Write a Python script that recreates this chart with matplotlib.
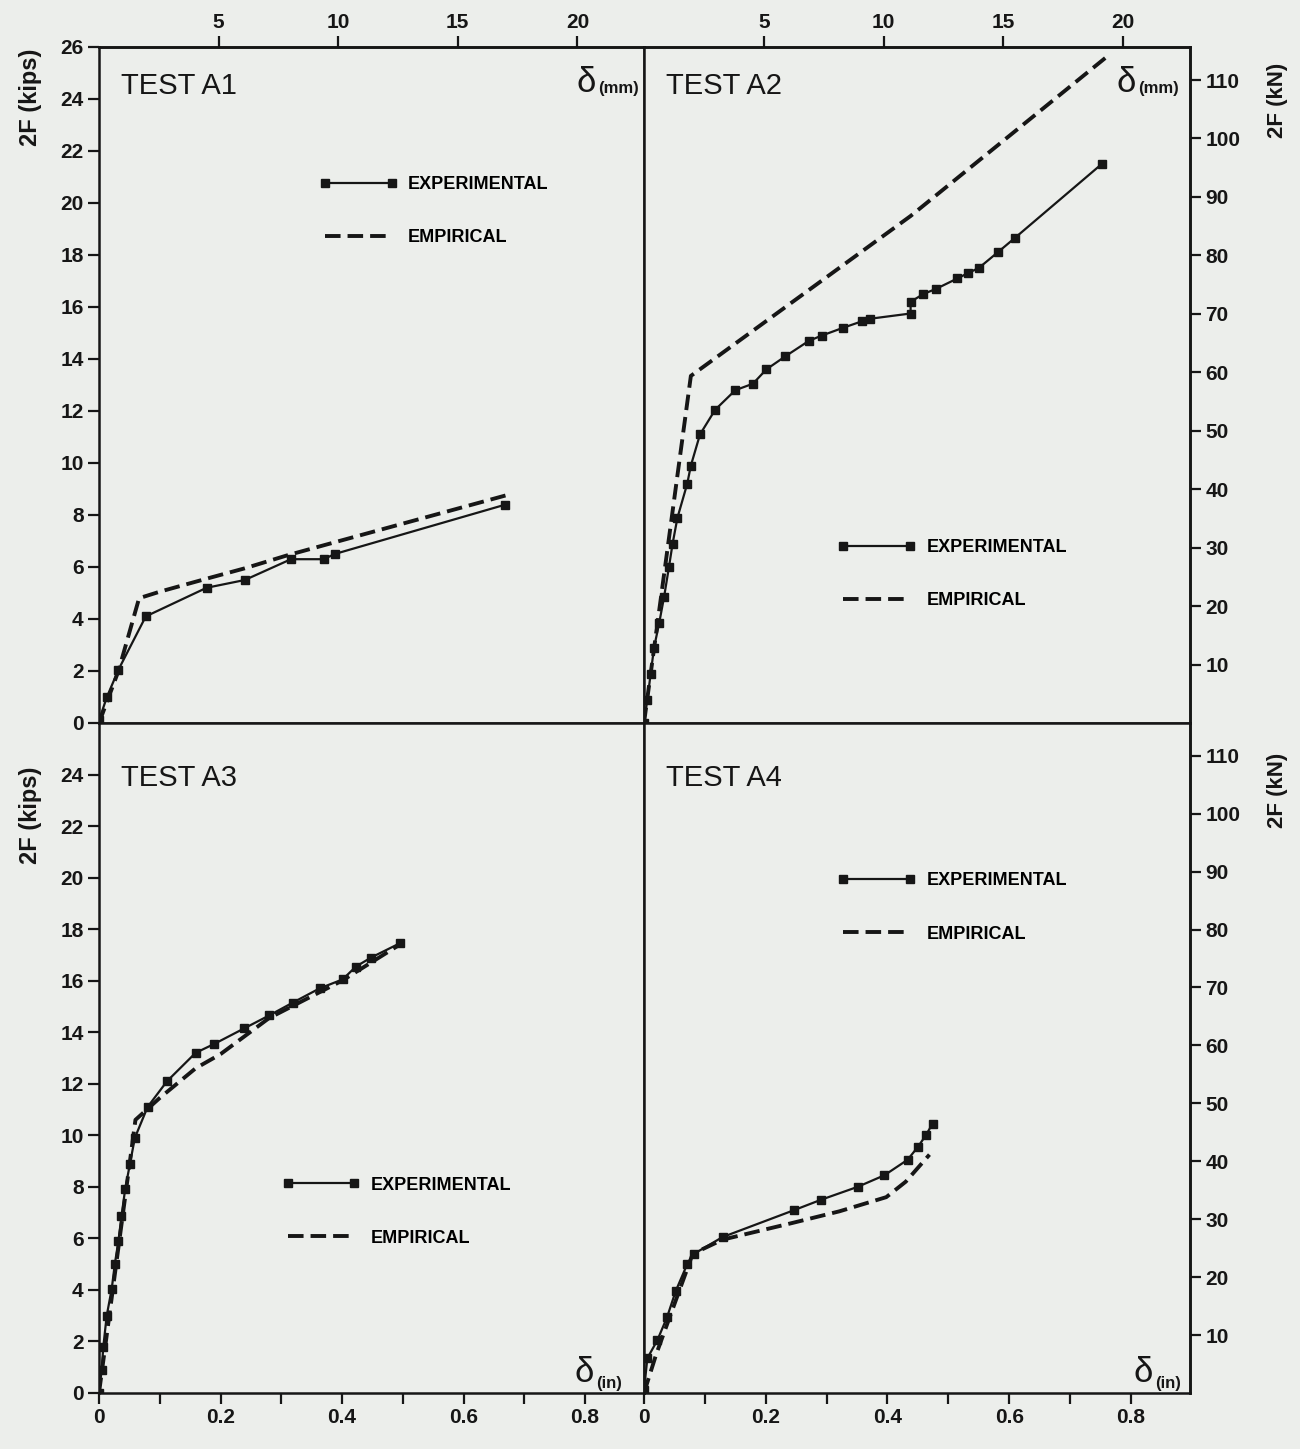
import numpy as np
import matplotlib.pyplot as plt
from matplotlib.ticker import FuncFormatter

plt.rcParams['font.family'] = ['Liberation Sans', 'DejaVu Sans']
plt.rcParams['font.weight'] = 'bold'

KN_PER_KIP = 4.448
MM_PER_IN = 25.4

# TEST A1  (deflection in inches, load 2F in kips)
a1_exp_in = [0, 0.013, 0.032, 0.077, 0.177, 0.24, 0.316, 0.370, 0.388, 0.669]
a1_exp_kips = [0.1, 1.0, 2.05, 4.1, 5.2, 5.5, 6.3, 6.3, 6.5, 8.4]
a1_emp_in = [0, 0.032, 0.066, 0.10, 0.177, 0.24, 0.31, 0.38, 0.669]
a1_emp_kips = [0, 2.0, 4.8, 5.05, 5.55, 5.95, 6.45, 6.9, 8.75]

# TEST A2
a2_exp_in = [0, 0.0055, 0.011, 0.0165, 0.025, 0.033, 0.041, 0.047, 0.055, 0.071,
             0.077, 0.092, 0.117, 0.15, 0.179, 0.201, 0.232, 0.271, 0.292, 0.327,
             0.358, 0.372, 0.438, 0.438, 0.459, 0.480, 0.515, 0.532, 0.550, 0.581,
             0.609, 0.752]
a2_exp_kips = [0, 0.9, 1.9, 2.9, 3.85, 4.85, 6.0, 6.9, 7.9, 9.2,
               9.9, 11.1, 12.05, 12.8, 13.05, 13.6, 14.1, 14.7, 14.9, 15.2,
               15.45, 15.55, 15.75, 16.2, 16.5, 16.7, 17.1, 17.3, 17.5, 18.1,
               18.65, 21.5]
a2_emp_in = [0, 0.077, 0.438, 0.759]
a2_emp_kips = [0, 13.35, 19.5, 25.6]

# TEST A3
a3_exp_in = [0, 0.0044, 0.0071, 0.0127, 0.021, 0.026, 0.032, 0.037, 0.043, 0.051,
             0.059, 0.080, 0.112, 0.159, 0.190, 0.239, 0.280, 0.319, 0.363, 0.401,
             0.423, 0.448, 0.495]
a3_exp_kips = [0, 0.9, 1.8, 3.0, 4.05, 5.0, 5.9, 6.85, 7.9, 8.9,
               9.9, 11.1, 12.1, 13.2, 13.55, 14.15, 14.65, 15.15, 15.7, 16.05,
               16.55, 16.9, 17.45]
a3_emp_in = [0, 0.06, 0.10, 0.159, 0.20, 0.28, 0.40, 0.495]
a3_emp_kips = [0, 10.6, 11.45, 12.6, 13.15, 14.55, 16.0, 17.4]

# TEST A4
a4_exp_in = [0, 0.0055, 0.022, 0.038, 0.052, 0.071, 0.082, 0.129, 0.247, 0.291,
             0.351, 0.395, 0.433, 0.45, 0.463, 0.474]
a4_exp_kips = [0.1, 1.35, 2.05, 2.95, 3.95, 5.0, 5.4, 6.05, 7.1, 7.5,
               8.0, 8.45, 9.05, 9.55, 10.0, 10.45]
a4_emp_in = [0, 0.02, 0.08, 0.129, 0.244, 0.321, 0.398, 0.43, 0.469]
a4_emp_kips = [0, 1.5, 5.4, 5.95, 6.6, 7.05, 7.6, 8.2, 9.25]

ink = '#161616'
paper = '#eceeeb'
W, H = 1300, 1449


def box(x0, x1, y0, y1):
    return [x0 / W, 1 - y1 / H, (x1 - x0) / W, (y1 - y0) / H]


fig = plt.figure(figsize=(13, 14.49), dpi=100)
fig.patch.set_facecolor(paper)

ax1 = fig.add_axes(box(99, 644, 47, 723))
ax2 = fig.add_axes(box(644, 1190, 47, 723))
ax3 = fig.add_axes(box(99, 644, 723, 1393))
ax4 = fig.add_axes(box(644, 1190, 723, 1393))

panels = [
    (ax1, 'TEST A1', a1_exp_in, a1_exp_kips, a1_emp_in, a1_emp_kips, (0.405, 0.796), 0.942),
    (ax2, 'TEST A2', a2_exp_in, a2_exp_kips, a2_emp_in, a2_emp_kips, (0.355, 0.259), 0.942),
    (ax3, 'TEST A3', a3_exp_in, a3_exp_kips, a3_emp_in, a3_emp_kips, (0.336, 0.310), 0.918),
    (ax4, 'TEST A4', a4_exp_in, a4_exp_kips, a4_emp_in, a4_emp_kips, (0.355, 0.764), 0.918),
]

tick_kw = dict(direction='out', length=8, width=1.6, labelsize=15, colors=ink, pad=3)

for ax, title, xe, ye, xm, ym, leg, ty in panels:
    ax.set_facecolor(paper)
    ax.plot(xe, ye, color=ink, lw=1.6, marker='s', ms=6, mfc=ink, mec=ink,
            label='EXPERIMENTAL', zorder=3)
    ax.plot(xm, ym, color=ink, lw=2.8, ls=(0, (4, 1.8)), label='EMPIRICAL', zorder=2)
    ax.set_xlim(0, 0.897)
    ax.set_ylim(0, 26)
    for s in ax.spines.values():
        s.set_linewidth(1.8)
        s.set_color(ink)
    ax.tick_params(**tick_kw)
    ax.text(0.04, ty, title, transform=ax.transAxes, fontsize=21,
            fontweight='normal', va='center', ha='left', color=ink)
    ax.legend(loc='upper left', bbox_to_anchor=(leg[0], leg[1] + 0.013),
              frameon=False, fontsize=13, handlelength=4.3, handletextpad=0.6,
              labelspacing=2.0, borderpad=0, borderaxespad=0, numpoints=2)

# left axes (kips)
ax1.set_yticks(np.arange(0, 27, 2))
ax3.set_yticks(np.arange(0, 25, 2))
for ax in (ax2, ax4):
    ax.tick_params(left=False, labelleft=False)
for ax in (ax1, ax2):
    ax.tick_params(bottom=False, labelbottom=False)

# bottom axes (in)
fmt = FuncFormatter(lambda v, p: '0' if abs(v) < 1e-9 else f'{v:.1f}')
for ax in (ax3, ax4):
    ax.set_xticks([0, 0.2, 0.4, 0.6, 0.8])
    ax.set_xticks([0.1, 0.3, 0.5, 0.7], minor=True)
    ax.xaxis.set_major_formatter(fmt)
    ax.tick_params(axis='x', which='minor', direction='out', length=8, width=1.6, colors=ink)

# top axes (mm)
for ax in (ax1, ax2):
    top = ax.secondary_xaxis('top', functions=(lambda x: x * MM_PER_IN, lambda x: x / MM_PER_IN))
    top.set_xticks([5, 10, 15, 20])
    top.tick_params(**tick_kw)
    top.spines['top'].set_linewidth(1.8)

# right axes (kN)
for ax in (ax2, ax4):
    right = ax.secondary_yaxis('right', functions=(lambda y: y * KN_PER_KIP, lambda y: y / KN_PER_KIP))
    right.set_yticks(np.arange(10, 111, 10))
    right.tick_params(**tick_kw)
    right.spines['right'].set_linewidth(1.8)

# deflection symbols
for ax, xr, unit, yd, yu in [(ax1, 0.912, '(mm)', 0.948, 0.939),
                             (ax2, 0.901, '(mm)', 0.948, 0.939),
                             (ax3, 0.908, '(in)', 0.030, 0.014),
                             (ax4, 0.932, '(in)', 0.030, 0.014)]:
    ax.text(xr, yd, 'δ', transform=ax.transAxes, fontsize=25, fontweight='normal',
            ha='right', va='center', color=ink)
    ax.text(xr + 0.004, yu, unit, transform=ax.transAxes, fontsize=12,
            ha='left', va='center', color=ink)

# axis titles
fig.text(30 / W, 1 - 97 / H, '2F (kips)', rotation=90, fontsize=17,
         ha='center', va='center', color=ink)
fig.text(30 / W, 1 - 815 / H, '2F (kips)', rotation=90, fontsize=17,
         ha='center', va='center', color=ink)
fig.text(1278 / W, 1 - 100 / H, '2F (kN)', rotation=90, fontsize=16,
         ha='center', va='center', color=ink)
fig.text(1278 / W, 1 - 790 / H, '2F (kN)', rotation=90, fontsize=16,
         ha='center', va='center', color=ink)

fig.savefig('out.png', dpi=100, facecolor=paper)
